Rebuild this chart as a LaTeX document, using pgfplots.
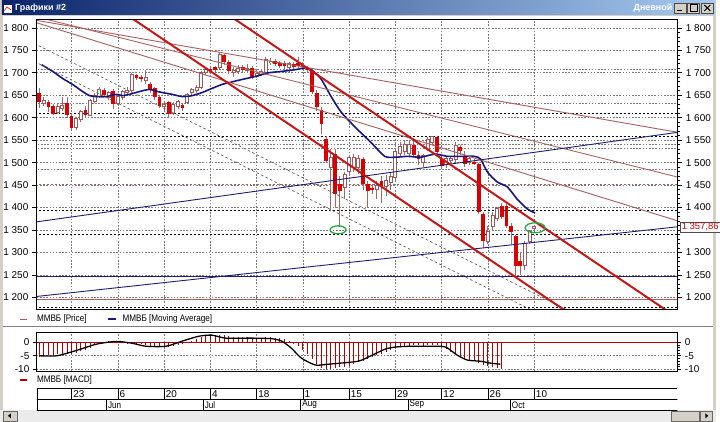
\documentclass[border=0pt]{standalone}
\usepackage{fontspec}
\setmainfont{Liberation Sans}
\newfontfamily\uifont[FakeStretch=0.86]{Liberation Sans}
\usepackage{pgfplots}
\usepackage{pgfplotstable}
\pgfplotsset{compat=1.18}

\definecolor{wingrey}{RGB}{212,208,200}
\definecolor{titleA}{RGB}{10,36,106}
\definecolor{titleB}{RGB}{166,202,240}
\definecolor{candlered}{RGB}{218,0,0}
\definecolor{hollowedge}{RGB}{155,90,90}
\definecolor{wick}{RGB}{160,105,105}
\definecolor{trendred}{RGB}{196,24,24}
\definecolor{brownline}{RGB}{165,95,95}
\definecolor{maline}{RGB}{22,22,125}
\definecolor{navyline}{RGB}{30,30,110}
\definecolor{ellgreen}{RGB}{40,165,70}
\definecolor{gridgrey}{RGB}{120,120,120}
\definecolor{macdred}{RGB}{176,0,0}

% falling candles (red), t = trading day, 0 = 23 May
\pgfplotstableread{
t o h l c
-7 1656 1665 1622 1634
-5 1636 1640 1612 1624
-4 1626 1630 1605 1608
-1 1632 1645 1600 1606
0 1603 1610 1570 1576
3 1618 1625 1600 1605
7 1662 1666 1645 1650
9 1660 1663 1620 1630
14 1694 1698 1684 1688
15 1690 1694 1680 1686
17 1675 1680 1656 1662
18 1665 1668 1640 1645
19 1646 1650 1622 1626
21 1634 1638 1600 1608
24 1628 1632 1616 1622
30 1708 1712 1698 1703
31 1712 1716 1702 1706
33 1740 1742 1718 1725
34 1725 1728 1698 1703
37 1712 1718 1700 1706
39 1711 1714 1686 1690
44 1726 1730 1714 1720
45 1722 1726 1710 1716
46 1722 1726 1708 1714
48 1720 1724 1708 1712
49 1722 1735 1710 1716
50 1718 1725 1706 1712
51 1712 1716 1700 1706
52 1703 1706 1652 1658
53 1656 1662 1616 1623
54 1618 1624 1564 1585
55 1552 1560 1500 1503
57 1519 1530 1400 1430
58 1452 1470 1357 1437
63 1508 1512 1440 1452
64 1452 1460 1400 1437
65 1443 1452 1430 1440
67 1460 1470 1410 1445
74 1540 1548 1512 1518
75 1518 1525 1495 1507
79 1557 1560 1520 1524
80 1508 1512 1485 1492
84 1535 1540 1518 1525
85 1512 1525 1490 1497
87 1502 1508 1494 1498
88 1497 1500 1385 1390
89 1386 1390 1309 1326
93 1404 1410 1375 1380
94 1404 1408 1355 1360
95 1360 1365 1320 1346
96 1337 1340 1249 1271
97 1280 1300 1250 1269
}\down

% rising candles (hollow)
\pgfplotstableread{
t o h l c
-6 1632 1645 1625 1638
-3 1612 1630 1608 1625
-2 1620 1645 1615 1628
1 1578 1602 1572 1598
2 1596 1618 1590 1614
4 1606 1642 1603 1638
5 1636 1655 1632 1650
6 1648 1668 1644 1662
8 1646 1660 1640 1655
10 1632 1652 1628 1648
11 1645 1662 1640 1658
12 1656 1668 1652 1660
13 1660 1700 1656 1696
16 1682 1706 1675 1690
20 1624 1636 1618 1630
22 1610 1634 1606 1630
23 1624 1640 1620 1636
25 1634 1655 1630 1652
26 1656 1666 1650 1662
27 1660 1672 1655 1668
28 1667 1703 1664 1700
29 1700 1712 1696 1707
32 1712 1745 1708 1740
35 1700 1712 1690 1704
36 1702 1718 1698 1710
38 1706 1720 1702 1710
40 1692 1702 1688 1698
41 1696 1706 1692 1702
42 1700 1734 1696 1730
43 1722 1732 1718 1726
47 1712 1724 1700 1720
56 1490 1530 1393 1512
59 1445 1480 1420 1474
60 1481 1515 1470 1512
61 1490 1520 1480 1512
62 1490 1518 1475 1510
66 1440 1460 1420 1450
68 1448 1472 1425 1460
69 1455 1480 1440 1470
70 1468 1530 1462 1525
71 1520 1545 1515 1535
72 1525 1550 1518 1540
73 1520 1548 1515 1540
76 1500 1520 1490 1515
77 1530 1556 1525 1552
78 1545 1560 1540 1558
81 1495 1514 1488 1510
82 1505 1515 1500 1508
83 1508 1545 1500 1537
86 1500 1515 1495 1510
90 1325 1360 1318 1346
91 1357 1390 1350 1382
92 1375 1402 1370 1397
98 1271 1325 1262 1320
99 1325 1350 1320 1346
100 1353 1362 1350 1358
}\up

% MACD histogram
\pgfplotstableread{
t v
-7 -5.5
-6 -5
-5 -4.8
-4 -4.8
-3 -4.5
-2 -4.2
-1 -4
0 -4.2
1 -3.8
2 -3.3
3 -2.8
4 -2
5 -1.2
6 -0.6
7 -0.2
8 0.3
9 0.2
10 0.1
11 -0.3
12 -0.6
13 -0.2
14 -0.5
15 -0.8
16 -1
17 -1.5
18 -1.6
19 -1.8
20 -1.7
21 -1.6
22 -1.5
23 -1.2
24 -0.8
25 -0.2
26 0.5
27 1.2
28 1.8
29 2.2
30 2.5
31 2.6
32 2.8
33 2.6
34 2.2
35 2.0
36 1.8
37 1.8
38 1.8
39 1.6
40 1.6
41 1.6
42 1.8
43 1.8
44 1.6
45 1.4
46 1.0
47 0.6
48 -0.5
49 -1.5
50 -3
51 -4.5
52 -6
53 -8
54 -9.5
55 -10
56 -9.8
57 -9.5
58 -9.2
59 -9
60 -8.6
61 -8
62 -7.4
63 -6.8
64 -6.2
65 -5.5
66 -4.8
67 -4.2
68 -3.5
69 -2.8
70 -2.2
71 -1.8
72 -1.5
73 -1.3
74 -1.2
75 -1.2
76 -1.3
77 -1.1
78 -1.0
79 -1.2
80 -1.8
81 -2.6
82 -3.6
83 -4.5
84 -5.2
85 -6
86 -6.5
87 -7
88 -7.6
89 -8.3
90 -8.8
91 -9.2
92 -9.5
93 -9.8
}\macd

\pgfplotsset{
  common/.style={
    anchor=south west, scale only axis, width=644pt,
    xmin=-7.53, xmax=130.97,
    axis line style={black, line width=0.8pt},
    /pgf/number format/assume math mode=true,
    tick style={black, line width=0.6pt},
  },
  tickfont/.style={font=\fontsize{10}{12}\selectfont},
  candle/.style={draw=none, mark=none, forget plot,
    error bars/.cd, y dir=plus, y explicit, error mark=none,
    error bar style={#1}},
}

\begin{document}
\fontsize{10}{12}\selectfont
\begin{tikzpicture}[x=1pt,y=1pt]
% window
\fill[wingrey] (0,0) rectangle (720,424);
\fill[white] (3,12) rectangle (717,408);
\shade[left color=titleA, right color=titleB] (2,409) rectangle (718,423);
\fill[white] (3,411) rectangle (12,420);
\draw[titleA, line width=0.6pt] (3,411) rectangle (12,420);
\draw[red, line width=0.6pt] (4,413) -- (7,417) -- (11,414);
\node[anchor=west, text=white, inner sep=0pt, font=\bfseries\fontsize{9}{10}\selectfont] at (15,416) {Графики \#2};
\node[anchor=east, text=white, inner sep=0pt, font=\bfseries\fontsize{9}{10}\selectfont] at (676,416) {Дневной};
\foreach \bx in {678,691,705}{
  \fill[wingrey] (\bx,411) rectangle (\bx+12,421);
  \draw[black!70, line width=0.5pt] (\bx,411) rectangle (\bx+12,421);
}
\draw[black, line width=1.2pt] (681,413.5) -- (686,413.5);
\draw[black, line width=0.7pt] (694,413) rectangle (701,419.5);
\draw[black, line width=1pt] (708,413) -- (714,419) (708,419) -- (714,413);

% separator and legends
\draw[gray, line width=0.8pt] (3,95.5) -- (717,95.5);
\draw[brownline, line width=1pt] (20,103) -- (27,103);
\node[anchor=west, inner sep=0pt, font=\uifont\fontsize{9.5}{11}\selectfont] at (37,103) {ММВБ [Price]};
\draw[maline, line width=2pt] (109,103) -- (117,103);
\node[anchor=west, inner sep=0pt, font=\uifont\fontsize{9.5}{11}\selectfont] at (123,103) {ММВБ [Moving Average]};
\draw[macdred, line width=2pt] (20,42) -- (27,42);
\node[anchor=west, inner sep=0pt, font=\uifont\fontsize{9.5}{11}\selectfont] at (37,42) {ММВБ [MACD]};

% scrollbar
\fill[black!8] (0,0) rectangle (720,12);
\fill[wingrey] (3,1) rectangle (17,11);
\draw[black!60, line width=0.5pt] (3,1) rectangle (17,11);
\fill[black] (8,6) -- (11,8.5) -- (11,3.5) -- cycle;
\fill[wingrey] (675,1) rectangle (703,11);
\draw[black!60, line width=0.5pt] (675,1) rectangle (703,11);
\fill[wingrey] (704,1) rectangle (716,11);
\draw[black!60, line width=0.5pt] (704,1) rectangle (716,11);
\fill[black] (712,6) -- (709,8.5) -- (709,3.5) -- cycle;

% ---------- main price panel ----------
\begin{axis}[common, at={(37pt,113pt)}, height=291pt,
  ymin=1173.4, ymax=1817.7,
  xtick={0,10,...,100}, xticklabels={}, major x tick style={draw=none},
  ytick={1200,1250,...,1800}, ytick pos=left, tick align=outside,
  major tick length=5pt,
  yticklabel style={tickfont, /pgf/number format/1000 sep={\ }},
  xmajorgrids, ymajorgrids,
  major grid style={gridgrey, dash pattern=on 1.6pt off 1.6pt, line width=0.6pt},
]
% extra horizontal levels
\addplot[gridgrey, dash pattern=on 1.6pt off 1.6pt, line width=0.6pt, forget plot] coordinates {(-8,1707) (132,1707)};
\addplot[gridgrey, dash pattern=on 1.6pt off 1.6pt, line width=0.6pt, forget plot] coordinates {(-8,1631) (132,1631)};
\addplot[gridgrey, dash pattern=on 1.6pt off 1.6pt, line width=0.6pt, forget plot] coordinates {(-8,1541) (132,1541)};
\addplot[gridgrey, dash pattern=on 1.6pt off 1.6pt, line width=0.6pt, forget plot] coordinates {(-8,1531) (132,1531)};
\addplot[gridgrey, dash pattern=on 1.6pt off 1.6pt, line width=0.6pt, forget plot] coordinates {(-8,1485) (132,1485)};
\addplot[black, dash pattern=on 2pt off 2pt, line width=0.8pt, forget plot] coordinates {(-8,1609) (132,1609)};
\addplot[black, dash pattern=on 2pt off 2pt, line width=0.8pt, forget plot] coordinates {(-8,1558) (132,1558)};
\addplot[black, dash pattern=on 2pt off 2pt, line width=0.8pt, forget plot] coordinates {(-8,1394) (132,1394)};
\addplot[black, dash pattern=on 2pt off 2pt, line width=0.8pt, forget plot] coordinates {(-8,1341) (132,1341)};
\addplot[black, dash pattern=on 2pt off 2pt, line width=0.8pt, forget plot] coordinates {(-8,1177) (132,1177)};
\addplot[brownline, dash pattern=on 2pt off 2pt, line width=1pt, forget plot] coordinates {(-8,1451) (132,1451)};
\addplot[navyline, line width=0.9pt, forget plot] coordinates {(-8,1247) (132,1247)};
\addplot[brownline, line width=0.9pt, forget plot] coordinates {(-8,1195) (132,1195)};

% wicks
\addplot[candle={draw=wick, line width=1pt}]
  table[x=t, y=l, y error expr=\thisrow{h}-\thisrow{l}] {\down};
\addplot[candle={draw=wick, line width=1pt}]
  table[x=t, y=l, y error expr=\thisrow{h}-\thisrow{l}] {\up};
% bodies
\addplot[candle={draw=candlered, line width=3.7pt}]
  table[x=t, y=c, y error expr=\thisrow{o}-\thisrow{c}] {\down};
\addplot[candle={draw=hollowedge, line width=4pt}]
  table[x=t, y expr=\thisrow{o}-1.2, y error expr=\thisrow{c}-\thisrow{o}+2.4] {\up};
\addplot[candle={draw=white, line width=2pt}]
  table[x=t, y expr=\thisrow{o}+1, y error expr={max(\thisrow{c}-\thisrow{o}-2,0)}] {\up};

% moving average
\addplot[maline, line width=1.6pt, smooth, tension=0.4] coordinates {
(-6.5,1718) (-4.1,1703) (-1.9,1687) (0.2,1674) (2.4,1658) (3.9,1649) (5.4,1647)
(7.5,1647) (9.7,1652) (11,1649) (12.5,1652) (14.6,1658) (16.8,1663) (18.3,1659)
(19.6,1656) (21.7,1652) (23.9,1647) (26,1649) (28.2,1656) (30.3,1665) (32.5,1674)
(34,1678) (36.8,1685) (39.8,1692) (42.6,1700) (45.4,1703) (48.4,1707) (50.8,1711)
(52.3,1703) (54,1685) (56.1,1647) (58.3,1612) (61.3,1579) (64.7,1545) (67.7,1514)
(69.9,1512) (72.7,1514) (75.5,1512) (78.5,1519) (81.3,1514) (84.1,1514) (87.1,1514)
(88.4,1508) (89.9,1479) (92,1457) (94.2,1446) (96.3,1419) (98.5,1397) (100.2,1388)
};

% trend lines
\addplot[brownline, line width=0.9pt] coordinates {(-10,1821.1) (135,1560.3)};
\addplot[brownline, line width=0.9pt] coordinates {(-10,1830.8) (135,1457.6)};
\addplot[brownline, line width=0.9pt] coordinates {(-10,1819) (135,1357.8)};
\addplot[black!65, dash pattern=on 2.5pt off 2.5pt, line width=0.7pt] coordinates {(-10,1775.1) (120,1105.9)};
\addplot[black!65, dash pattern=on 2.5pt off 2.5pt, line width=0.7pt] coordinates {(-10,1735.2) (120,1066)};
\addplot[navyline, line width=0.9pt] coordinates {(-10,1364.7) (135,1573.2)};
\addplot[navyline, line width=0.9pt] coordinates {(-10,1199.4) (135,1361.7)};
\addplot[trendred, line width=2pt] coordinates {(10,1842.4) (110,1147.8)};
\addplot[trendred, line width=2pt] coordinates {(30,1855.9) (135,1126.7)};

\draw[ellgreen, line width=1.3pt] (axis cs:57.6,1350.5) ellipse [x radius=8pt, y radius=4pt];
\draw[ellgreen, line width=1.3pt] (axis cs:100.2,1355) ellipse [x radius=10pt, y radius=5pt];
\end{axis}

\begin{axis}[common, at={(37pt,113pt)}, height=291pt,
  ymin=1173.4, ymax=1817.7, xtick=\empty,
  ytick={1200,1250,...,1800},
  yticklabels={1 200,1 250,1 300,,1 400,1 450,1 500,1 550,1 600,1 650,1 700,1 750,1 800},
  ytick pos=right, yticklabel pos=right,
  minor y tick num=4, tick align=outside,
  major tick length=5pt, minor tick length=3pt,
  yticklabel style={tickfont},
]
\end{axis}

% price tag
\node[draw=black!70, fill=white, text=candlered, anchor=west, inner sep=1.2pt,
  font=\fontsize{9.5}{10}\selectfont] at (684,196) {1 357,86};

% ---------- MACD panel ----------
\begin{axis}[common, at={(37pt,51pt)}, height=39pt,
  ymin=-10.62, ymax=3.66,
  xtick={0,10,...,100}, xticklabels={}, major x tick style={draw=none},
  ytick={-10,-5,0}, yticklabels={-10,-5,0}, ytick pos=left, tick align=outside,
  major tick length=4pt,
  yticklabel style={tickfont},
  xmajorgrids, ymajorgrids,
  major grid style={gridgrey, dash pattern=on 1.6pt off 1.6pt, line width=0.6pt},
]
\addplot[macdred, line width=0.7pt, forget plot] coordinates {(-8,0) (132,0)};
\addplot[ycomb, macdred, line width=0.9pt, mark=none] table[x=t, y=v] {\macd};
\addplot[black, line width=1.3pt, smooth, tension=0.4] coordinates {
(-6.9,-5) (-3.2,-5) (1.1,-3) (5.4,-0.7) (9.7,0.3) (13.1,-0.4) (16.1,-1.5)
(20.4,-1.5) (23.9,0.4) (27.5,2.2) (30.3,2.6) (33.3,1.5) (38.9,1.5) (43.2,1.3)
(45.4,0.4) (47.5,-2.2) (49.7,-5.9) (52.7,-8.4) (55.5,-8.1) (61.9,-7) (64.7,-5)
(67.7,-2.6) (69.9,-1.8) (73.3,-1.5) (79.8,-1.5) (81.3,-2.2) (83.4,-4.8)
(85.6,-6.6) (88.4,-7) (90.5,-7.7) (92.7,-8.1)
};
\end{axis}
\begin{axis}[common, at={(37pt,51pt)}, height=39pt,
  ymin=-10.62, ymax=3.66, xtick=\empty,
  ytick={-10,-5,0}, yticklabels={-10,-5,0}, ytick pos=right, yticklabel pos=right,
  minor y tick num=4, tick align=outside,
  major tick length=4pt, minor tick length=2.5pt,
  yticklabel style={tickfont},
]
\end{axis}

% ---------- date rows ----------
\begin{axis}[common, at={(37pt,23pt)}, height=11pt,
  ymin=0, ymax=1, hide y axis,
  axis line style={black, line width=0.6pt},
  xtick={-7.53,0,10,...,100}, xticklabels={,23,6,20,4,18,1,15,29,12,26,10},
  major tick length=0pt, xmajorgrids,
  major grid style={black, line width=0.6pt},
  xticklabel style={anchor=south west, inner sep=1pt, xshift=0.6pt, tickfont},
]
\end{axis}
\begin{axis}[common, at={(37pt,12pt)}, height=11pt,
  ymin=0, ymax=1, hide y axis,
  axis line style={black, line width=0.6pt},
  xtick={-7.53,7.5,28.4,49.5,72.7,94.8}, xticklabels={,Jun,Jul,Aug,Sep,Oct},
  major tick length=0pt, xmajorgrids,
  major grid style={black, line width=0.6pt},
  xticklabel style={anchor=south west, inner sep=1pt, xshift=0.6pt,
    font=\uifont\fontsize{9.5}{11}\selectfont},
]
\end{axis}
\end{tikzpicture}
\end{document}
